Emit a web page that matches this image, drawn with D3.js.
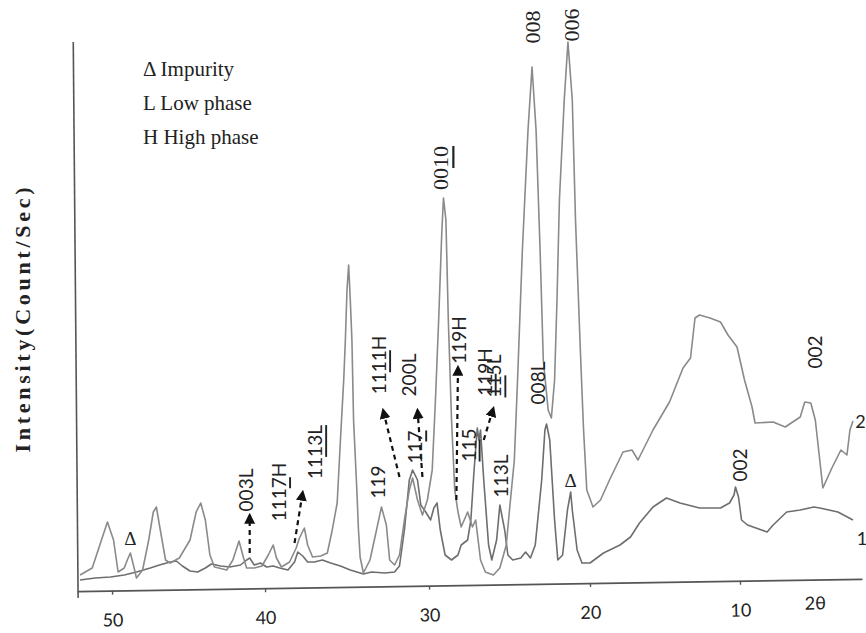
<!DOCTYPE html>
<html>
<head>
<meta charset="utf-8">
<script src="https://cdn.jsdelivr.net/npm/d3@7/dist/d3.min.js"></script>
<style>
  html, body { margin: 0; padding: 0; background: #fff; }
  svg { display: block; }
</style>
</head>
<body>
<svg id="chart" width="866" height="633"></svg>
<script>
// sample 1 (lower trace) : [2theta, counts]
const sample1 = [
  [52.1, 5], [51.1, 7], [50.1, 8], [49.2, 10], [48.4, 13], [47.5, 17], [46.9, 20], [46.2, 23],
  [45.8, 24], [45.4, 19], [44.9, 14], [44.4, 13], [43.9, 17], [43.5, 21], [42.9, 19], [42.3, 18],
  [41.6, 20], [41.2, 25], [41.0, 27], [40.7, 20], [40.3, 22], [39.9, 18], [39.5, 19], [39.1, 17],
  [38.6, 15], [38.2, 23], [38.0, 33], [37.7, 29], [37.4, 23], [37.0, 23], [36.5, 25], [36.0, 22],
  [35.4, 19], [34.8, 15], [34.4, 13], [34.0, 11], [33.5, 13], [32.7, 12], [32.1, 13], [31.8, 19],
  [31.5, 55], [31.2, 105], [31.0, 115], [30.7, 105], [30.5, 80], [30.2, 73], [29.9, 65], [29.7, 77],
  [29.5, 82], [29.3, 55], [29.0, 30], [28.6, 25], [28.2, 30], [28.0, 40], [27.6, 45], [27.4, 65],
  [27.2, 115], [27.0, 157], [26.9, 145], [26.8, 155], [26.6, 105], [26.3, 40], [26.1, 25], [25.8, 45],
  [25.6, 80], [25.3, 55], [25.1, 30], [24.8, 25], [24.3, 27], [24.0, 33], [23.7, 27], [23.4, 40],
  [23.0, 105], [22.8, 155], [22.7, 161], [22.5, 145], [22.2, 65], [22.0, 25], [21.7, 30], [21.4, 75],
  [21.2, 93], [21.1, 75], [20.8, 35], [20.5, 22], [20.0, 22], [19.1, 32], [18.0, 40], [17.3, 48],
  [16.7, 62], [15.8, 78], [14.9, 87], [14.0, 82], [12.7, 77], [11.3, 77], [10.7, 82], [10.4, 90],
  [10.3, 98], [10.1, 88], [9.9, 65], [9.5, 60], [8.2, 53], [7.8, 60], [6.9, 73], [6.0, 75],
  [5.1, 78], [4.7, 77], [3.5, 73], [2.5, 65],
]

// sample 2 (upper trace) : [2theta, counts]
const sample2 = [
  [52.1, 10], [51.3, 17], [50.8, 40], [50.3, 63], [49.9, 45], [49.6, 13], [49.2, 17], [49.0, 25],
  [48.8, 32], [48.6, 20], [48.4, 7], [48.0, 15], [47.6, 45], [47.3, 73], [47.1, 78], [46.9, 60],
  [46.5, 25], [46.2, 22], [45.6, 27], [44.9, 45], [44.5, 73], [44.2, 82], [43.9, 65], [43.6, 30],
  [43.3, 18], [42.5, 15], [42.1, 25], [41.7, 44], [41.4, 27], [41.2, 17], [40.7, 17], [40.2, 19],
  [39.8, 30], [39.5, 40], [39.3, 27], [39.0, 18], [38.5, 23], [38.1, 37], [37.9, 47], [37.6, 57],
  [37.4, 40], [37.1, 28], [36.6, 29], [36.2, 32], [35.9, 55], [35.6, 82], [35.4, 145], [35.2, 205],
  [35.1, 245], [35.0, 295], [34.9, 320], [34.8, 285], [34.7, 245], [34.6, 165], [34.4, 95], [34.3, 55],
  [34.2, 28], [34.0, 12], [33.6, 25], [33.2, 55], [32.9, 78], [32.6, 60], [32.4, 25], [32.1, 20],
  [31.8, 30], [31.5, 65], [31.2, 95], [31.0, 107], [30.7, 85], [30.4, 70], [30.1, 85], [29.8, 115],
  [29.6, 185], [29.4, 265], [29.2, 355], [29.1, 387], [28.95, 365], [28.8, 265], [28.6, 165], [28.4, 95],
  [28.2, 73], [28.0, 58], [27.6, 73], [27.3, 58], [27.1, 65], [26.8, 25], [26.5, 13], [26.0, 10],
  [25.6, 17], [25.2, 40], [25.0, 75], [24.7, 125], [24.5, 205], [24.2, 335], [23.85, 455], [23.6, 518],
  [23.35, 455], [23.1, 335], [22.9, 225], [22.6, 175], [22.4, 167], [22.2, 205], [22.05, 285], [21.9, 385],
  [21.6, 485], [21.37, 543], [21.1, 485], [20.9, 365], [20.6, 235], [20.4, 155], [20.2, 95], [19.8, 78],
  [19.3, 85], [18.7, 105], [17.8, 133], [17.2, 135], [16.8, 125], [15.8, 155], [14.7, 183], [13.8, 217],
  [13.3, 227], [13.0, 267], [12.7, 270], [12.0, 267], [11.3, 263], [10.8, 250], [10.2, 238], [9.7, 205],
  [9.2, 178], [9.0, 162], [7.8, 163], [7.0, 158], [6.0, 168], [5.7, 183], [5.3, 182], [5.0, 165],
  [4.5, 97], [3.9, 117], [3.3, 135], [2.9, 130], [2.7, 155], [2.5, 164],
]

const xTicks = [50, 40, 30, 20, 10]

const legendLines = ['\u0394 Impurity', 'L Low phase', 'H High phase']

// peak labels : text, 2theta, counts (label centre), underlined part
const peakLabels = [
  { text: '008', t: 23.6, c: 558, serif: true },
  { text: '006', t: 21.2, c: 560, serif: true },
  { text: '0010', t: 29.3, c: 417, serif: true, under: [2, 4] },
  { text: '002', t: 5.1, c: 233 },
  { text: '002', t: 10.1, c: 120 },
  { text: '008L', t: 23.3, c: 202 },
  { text: '113L', t: 25.6, c: 109 },
  { text: '119H', t: 26.6, c: 213, under: [0, 2] },
  { text: '115L', t: 26.0, c: 209, under: [0, 2] },
  { text: '119H', t: 28.2, c: 245 },
  { text: '115', t: 27.6, c: 140, under: [0, 2] },
  { text: '1111H', t: 33.1, c: 220, under: [2, 4] },
  { text: '200L', t: 31.3, c: 210 },
  { text: '117', t: 30.9, c: 138, under: [2, 3] },
  { text: '119', t: 33.2, c: 103 },
  { text: '003L', t: 41.3, c: 95 },
  { text: '1117H', t: 39.2, c: 93, under: [3, 4] },
  { text: '1113L', t: 37.0, c: 133, under: [2, 5] },
]

const impurityMarks = [[48.8, 47], [21.2, 105]]

// dashed arrows : from [2theta, counts] to [2theta, counts]
const arrows = [
  [[41.0, 32], [41.0, 70]],
  [[38.2, 42], [37.7, 93]],
  [[31.8, 108], [32.8, 175]],
  [[30.4, 108], [30.7, 175]],
  [[28.3, 85], [28.2, 218]],
  [[26.6, 145], [26.0, 177]],
]

const traceLabels = [
  { text: '1', t: 1.9, c: 47 },
  { text: '2', t: 2.0, c: 164 },
]

const SANS = 'Lato, "Open Sans", sans-serif'
const SERIF = '"Liberation Serif", "DejaVu Serif", serif'

const svg = d3.select('#chart')

const x = d3.scaleLinear()
  .domain([52.3, 50, 40, 30, 20, 10, 1.9])
  .range([77, 112, 265, 429, 590, 740, 862])

const y = d3.scaleLinear().domain([0, 543]).range([585, 42])

// y axis (scan is slightly tilted)
const yAxis = svg.append('g').attr('transform', 'rotate(-0.5, 78, 585)')
yAxis.append('line')
  .attr('x1', 78).attr('x2', 78)
  .attr('y1', y.range()[1]).attr('y2', y.range()[0] + 13)
  .attr('stroke', '#555').attr('stroke-width', 1.6)

// x axis
const xAxisG = svg.append('g')
  .attr('transform', `rotate(-0.9, 470, 585) translate(0,${y(0)})`)
  .call(d3.axisBottom(x).tickValues(xTicks).tickSize(4).tickSizeOuter(0).tickPadding(19))
xAxisG.select('.domain').attr('stroke', '#555').attr('stroke-width', 1.6)
xAxisG.selectAll('.tick line').attr('stroke', '#555').attr('stroke-width', 1.4)
xAxisG.selectAll('.tick text')
  .attr('font-family', SANS).attr('font-size', 18).attr('fill', '#222')
xAxisG.append('text')
  .attr('x', 815).attr('y', 30)
  .attr('text-anchor', 'middle')
  .attr('font-family', SANS).attr('font-size', 18).attr('fill', '#222')
  .text('2\u03b8')

// y title
svg.append('text')
  .attr('transform', 'translate(30,320) rotate(-90)')
  .attr('text-anchor', 'middle')
  .attr('font-family', SERIF).attr('font-weight', 'bold').attr('font-size', 22)
  .attr('textLength', 265).attr('lengthAdjust', 'spacing')
  .attr('fill', '#222')
  .text('Intensity(Count/Sec)')

// traces
const line = d3.line().x((d) => x(d[0])).y((d) => y(d[1]))

svg.append('path')
  .datum(sample1)
  .attr('d', line)
  .attr('fill', 'none')
  .attr('stroke', '#6e6e6e')
  .attr('stroke-width', 1.6)
  .attr('stroke-linejoin', 'round')

svg.append('path')
  .datum(sample2)
  .attr('d', line)
  .attr('fill', 'none')
  .attr('stroke', '#8a8a8a')
  .attr('stroke-width', 1.6)
  .attr('stroke-linejoin', 'round')

svg.append('g')
  .selectAll('text')
  .data(traceLabels)
  .join('text')
  .attr('x', (d) => x(d.t))
  .attr('y', (d) => y(d.c))
  .attr('text-anchor', 'middle')
  .attr('dominant-baseline', 'central')
  .attr('font-family', SANS).attr('font-size', 18).attr('fill', '#222')
  .text((d) => d.text)

// legend
svg.append('g')
  .selectAll('text')
  .data(legendLines)
  .join('text')
  .attr('x', 143)
  .attr('y', (d, i) => 76 + i * 34)
  .attr('font-family', SERIF).attr('font-size', 21).attr('fill', '#222')
  .text((d) => d)

// arrowhead
svg.append('defs')
  .append('marker')
  .attr('id', 'head')
  .attr('viewBox', '0 -5 10 10')
  .attr('refX', 8)
  .attr('refY', 0)
  .attr('markerWidth', 5)
  .attr('markerHeight', 5)
  .attr('orient', 'auto')
  .append('path')
  .attr('d', 'M0,-5L10,0L0,5Z')
  .attr('fill', '#111')

svg.append('g')
  .selectAll('line')
  .data(arrows)
  .join('line')
  .attr('x1', (d) => x(d[0][0]))
  .attr('y1', (d) => y(d[0][1]))
  .attr('x2', (d) => x(d[1][0]))
  .attr('y2', (d) => y(d[1][1]))
  .attr('stroke', '#111')
  .attr('stroke-width', 2.2)
  .attr('stroke-dasharray', '5,4')
  .attr('marker-end', 'url(#head)')

// peak labels, rotated
svg.append('g')
  .selectAll('text')
  .data(peakLabels)
  .join('text')
  .attr('transform', (d) => `translate(${x(d.t)},${y(d.c)}) rotate(-90)`)
  .attr('text-anchor', 'middle')
  .attr('dominant-baseline', 'central')
  .attr('font-family', (d) => (d.serif ? SERIF : SANS))
  .attr('font-size', (d) => (d.serif ? 22 : 19))
  .attr('fill', '#222')
  .each(function (d) {
    const el = d3.select(this)
    const [a, b] = d.under || [0, 0]
    const parts = [d.text.slice(0, a), d.text.slice(a, b), d.text.slice(b)]
    parts.forEach((p, i) => {
      if (!p) return
      el.append('tspan')
        .attr('text-decoration', i === 1 ? 'underline' : null)
        .text(p)
    })
  })

svg.append('g')
  .selectAll('text')
  .data(impurityMarks)
  .join('text')
  .attr('x', (d) => x(d[0]))
  .attr('y', (d) => y(d[1]))
  .attr('text-anchor', 'middle')
  .attr('dominant-baseline', 'central')
  .attr('font-family', SERIF).attr('font-size', 19).attr('fill', '#222')
  .text('\u0394')
</script>
</body>
</html>
